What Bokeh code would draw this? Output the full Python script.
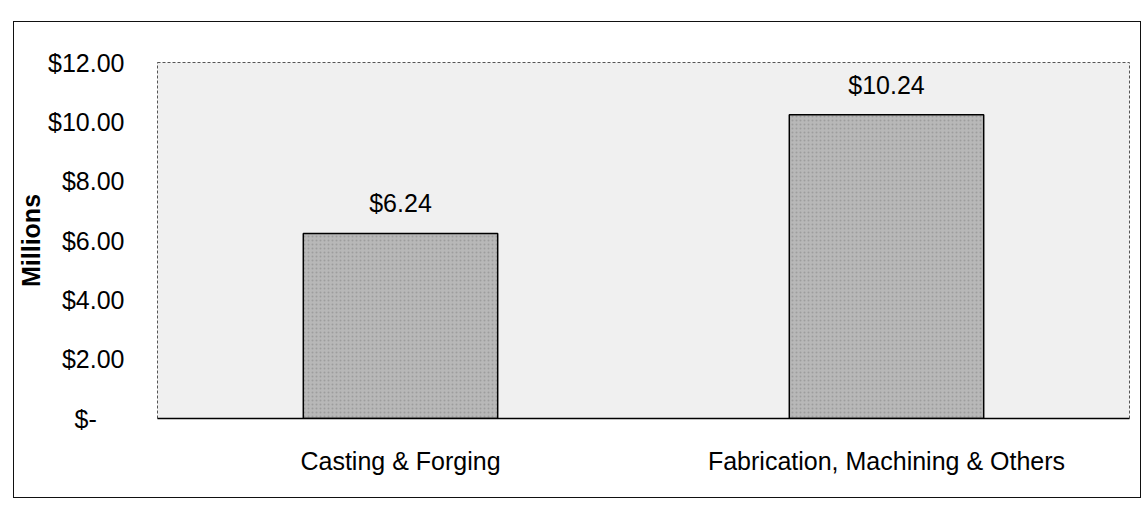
from bokeh.plotting import figure
from bokeh.models import ColumnDataSource, CustomJSTickFormatter, FixedTicker, Range1d, LabelSet
from bokeh.core.properties import value
from bokeh.embed import file_html
from bokeh.resources import INLINE

categories = ["Casting & Forging", "Fabrication, Machining & Others"]
values = [6.24, 10.24]
labels = ["$6.24", "$10.24"]
y_ticks = [0, 2, 4, 6, 8, 10, 12]

FONT = "Liberation Sans"

src = ColumnDataSource(dict(cat=categories, val=values, lab=labels))

p = figure(x_range=categories, y_range=Range1d(0, 12), width=1128, height=477,
           output_backend="svg", toolbar_location=None,
           min_border_left=139, min_border_right=13, min_border_top=40, min_border_bottom=81)
p.styles = {"border": "1.5px solid #111", "margin-left": "13px", "margin-top": "21px"}

p.background_fill_color = "#f0f0f0"
p.border_fill_color = "white"
p.outline_line_color = "#555555"
p.outline_line_dash = "3 2"
p.outline_line_width = 1

p.vbar(x="cat", top="val", width=0.4, source=src, fill_color="#b8b8b8",
       line_color="black", line_width=1.5,
       hatch_pattern="dot", hatch_color="#8a8a8a", hatch_scale=4, hatch_alpha=0.6)

p.add_layout(LabelSet(x="cat", y="val", text="lab", source=src, text_align="center",
                      text_baseline="bottom", y_offset=16, text_font=value(FONT),
                      text_font_size="25px", text_color="black"))

p.xgrid.visible = False
p.ygrid.visible = False

p.yaxis.ticker = FixedTicker(ticks=y_ticks)
p.yaxis.formatter = CustomJSTickFormatter(
    code="return tick == 0 ? '$-\u00a0\u00a0\u00a0\u00a0' : '$' + tick.toFixed(2);")
p.yaxis.axis_line_color = None
p.yaxis.major_tick_line_color = None
p.yaxis.minor_tick_line_color = None
p.yaxis.major_label_standoff = 27
p.yaxis.major_label_text_font = FONT
p.yaxis.major_label_text_font_size = "25px"
p.yaxis.major_label_text_color = "black"
p.yaxis.axis_label = "Millions"
p.yaxis.axis_label_text_font = FONT
p.yaxis.axis_label_text_font_style = "bold"
p.yaxis.axis_label_text_font_size = "25px"
p.yaxis.axis_label_text_color = "black"
p.yaxis.axis_label_standoff = 0

p.xaxis.axis_line_color = "black"
p.xaxis.axis_line_width = 1.5
p.xaxis.major_tick_line_color = None
p.xaxis.minor_tick_line_color = None
p.xaxis.major_label_standoff = 22
p.xaxis.major_label_text_font = FONT
p.xaxis.major_label_text_font_size = "25px"
p.xaxis.major_label_text_color = "black"

open("out.html", "w").write(file_html(p, INLINE))
